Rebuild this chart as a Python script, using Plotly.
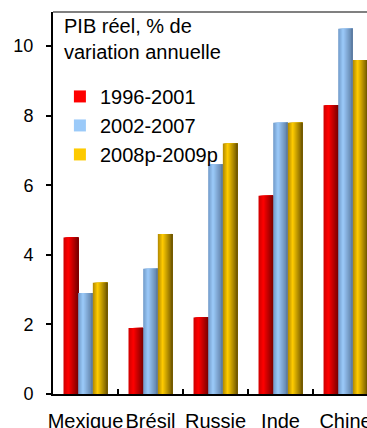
import plotly.graph_objects as go

# Real GDP growth, average annual % change
countries = ["Mexique", "Brésil", "Russie", "Inde", "Chine"]
periods = ["1996-2001", "2002-2007", "2008p-2009p"]
g_1996_2001 = [4.5, 1.9, 2.2, 5.7, 8.3]
g_2002_2007 = [2.9, 3.6, 6.6, 7.8, 10.5]
g_2008_2009 = [3.2, 4.6, 7.2, 7.8, 9.6]
y_ticks = [0, 2, 4, 6, 8, 10]

series = [g_1996_2001, g_2002_2007, g_2008_2009]

# Horizontal shading per series: (left edge, highlight, right edge)
shades = [
    ("#cc0000", "#ff0000", "#7a0000"),
    ("#7099c8", "#9ccbfa", "#5a7aa0"),
    ("#b08800", "#ffcc00", "#6e5600"),
]

FONT = "Liberation Sans, Arial, sans-serif"
BAR_W = 0.2256
GROUP_START = -0.3385
STRIPS = 14
PEAK = 0.33


def hex_rgb(h):
    h = h.lstrip("#")
    return [int(h[i:i + 2], 16) for i in (0, 2, 4)]


def mix(a, b, t):
    ca, cb = hex_rgb(a), hex_rgb(b)
    return "rgb(%d,%d,%d)" % tuple(round(x + (y - x) * t) for x, y in zip(ca, cb))


def shade_at(stops, t):
    left, peak, right = stops
    if t <= PEAK:
        return mix(left, peak, t / PEAK)
    return mix(peak, right, (t - PEAK) / (1 - PEAK))


fig = go.Figure()
for s, (vals, name, stops) in enumerate(zip(series, periods, shades)):
    base = GROUP_START + s * BAR_W
    legend_strip = int(PEAK * STRIPS)
    for k in range(STRIPS):
        t = (k + 0.5) / STRIPS
        left = base + k * BAR_W / STRIPS
        fig.add_trace(go.Bar(
            x=countries,
            y=vals,
            name=name,
            legendgroup=name,
            showlegend=(k == legend_strip),
            offset=left,
            width=BAR_W - k * BAR_W / STRIPS,
            marker=dict(color=shade_at(stops, t), line=dict(width=0)),
            hoverinfo="skip",
        ))

fig.update_layout(
    width=367,
    height=428,
    margin=dict(l=53, r=0, t=12, b=34, autoexpand=False),
    barmode="overlay",
    plot_bgcolor="white",
    paper_bgcolor="white",
    font=dict(family=FONT, size=20, color="black"),
    showlegend=True,
    legend=dict(
        x=0.022, y=0.83, xanchor="left", yanchor="top",
        bgcolor="rgba(0,0,0,0)",
        font=dict(family=FONT, size=20, color="black"),
        tracegroupgap=3,
        traceorder="normal",
    ),
    xaxis=dict(
        type="category",
        range=[-0.5, 4.33],
        automargin=False,
        showline=True, linecolor="black", linewidth=2,
        ticks="inside", tickson="boundaries", ticklen=5, tickwidth=1.5,
        tickcolor="black",
        tickangle=0,
        ticklabelstandoff=8,
        tickfont=dict(family=FONT, size=20, color="black"),
        showgrid=False, zeroline=False,
    ),
    yaxis=dict(
        range=[0, 10.98],
        tickvals=y_ticks,
        automargin=False,
        showline=True, linecolor="black", linewidth=2,
        ticks="outside", ticklen=5, tickwidth=1.5, tickcolor="black",
        tickfont=dict(family=FONT, size=18, color="black"),
        ticklabelstandoff=9,
        showgrid=False, zeroline=False,
    ),
    shapes=[dict(
        type="line", xref="paper", yref="paper",
        x0=0, x1=1, y0=1, y1=1,
        line=dict(color="#808080", width=2),
    )],
    annotations=[dict(
        text="PIB réel, % de<br>variation annuelle",
        xref="paper", yref="paper", x=0.028, y=0.997,
        xanchor="left", yanchor="top", align="left", showarrow=False,
        font=dict(family=FONT, size=20, color="black"),
    )],
)

fig.write_html("out.html")
